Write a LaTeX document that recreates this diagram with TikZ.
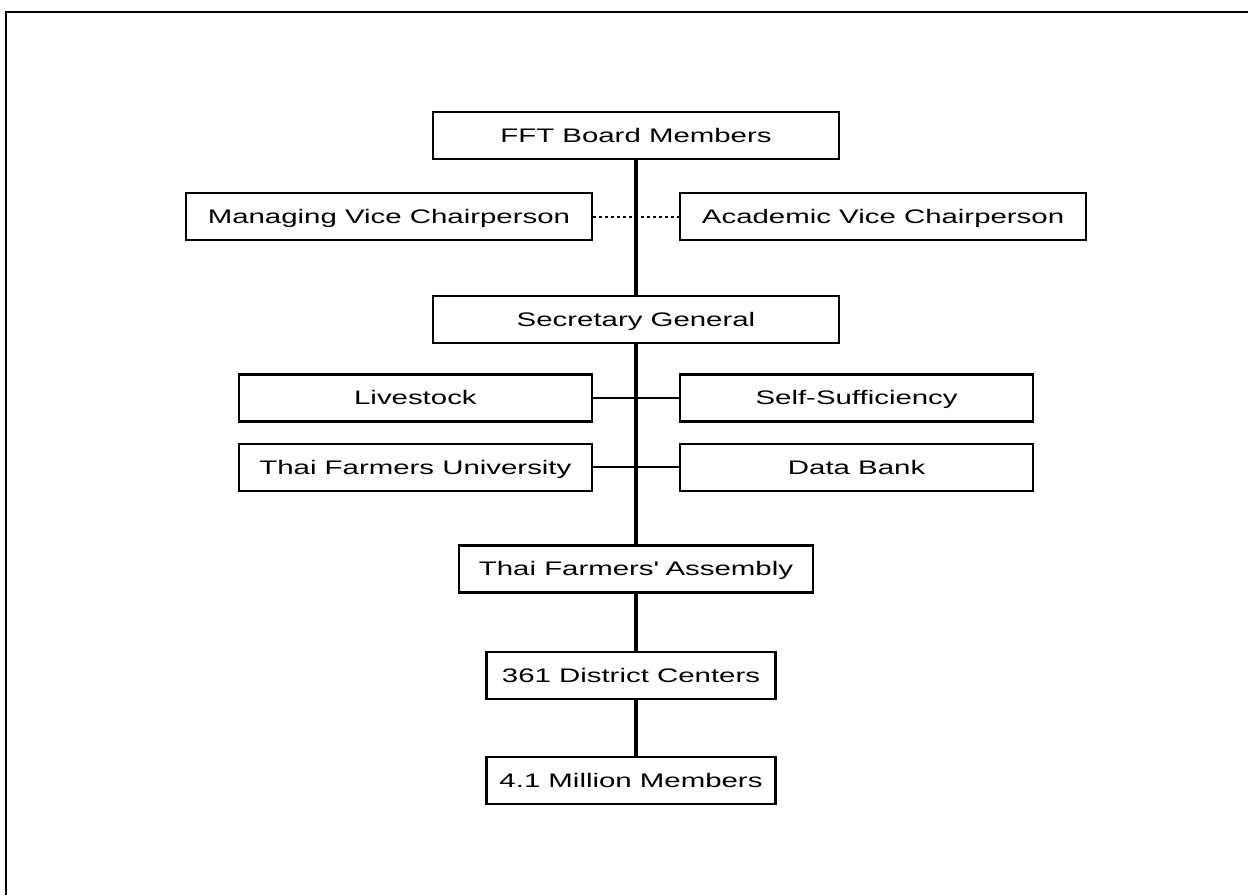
\documentclass[tikz,border=0pt]{standalone}
\usepackage{fontspec}
\setmainfont{Liberation Sans}[FakeStretch=1.5]
\usetikzlibrary{positioning}

\begin{document}
\begin{tikzpicture}[
  x=0.5pt,y=0.5pt,
  box/.style={draw,line width=1.1pt,minimum width=203pt,minimum height=23.5pt,
    inner sep=0pt,text height=7pt,text depth=0pt,
    font=\fontsize{9.8pt}{12pt}\selectfont},
  side/.style={box,minimum width=176.5pt},
  small/.style={box,minimum width=144.5pt},
  axis/.style={line width=1.6pt},
  link/.style={line width=1pt},
  peer/.style={line width=1pt,dash pattern=on 1.5pt off 1.5pt}
]
  \useasboundingbox (0,0) rectangle (1248,-895);
  \draw[line width=0.8pt] (6,-895) |- (1248,-12);

  \node[box] (board) at (636,-135.5) {FFT Board Members};
  \node[box,below left=16pt and 21.5pt of board.south] (mvc) {Managing Vice Chairperson};
  \node[box,below right=16pt and 21.5pt of board.south] (avc) {Academic Vice Chairperson};
  \node[box,below=67.5pt of board] (secgen) {Secretary General};
  \node[side,below left=14.5pt and 21.5pt of secgen.south] (stock) {Livestock};
  \node[side,below right=14.5pt and 21.5pt of secgen.south] (selfsuf) {Self-Sufficiency};
  \node[side,below=10pt of stock] (tfu) {Thai Farmers University};
  \node[side,below=10pt of selfsuf] (databank) {Data Bank};
  \node[box,minimum width=177pt,below=100pt of secgen] (assembly) {Thai Farmers\textquotesingle{} Assembly};
  \node[small,below=28.5pt of assembly,xshift=-2.5pt] (district) {361 District Centers};
  \node[small,below=28pt of district] (members) {4.1 Million Members};

  \draw[axis] (board) -- (secgen);
  \draw[axis] (secgen) -- (assembly);
  \draw[axis] (assembly.south) -- (assembly.south |- district.north);
  \draw[axis] (assembly.south |- district.south) -- (assembly.south |- members.north);
  \draw[peer] (mvc) -- (avc);
  \draw[link] (stock) -- (selfsuf);
  \draw[link] (tfu) -- (databank);
\end{tikzpicture}
\end{document}
